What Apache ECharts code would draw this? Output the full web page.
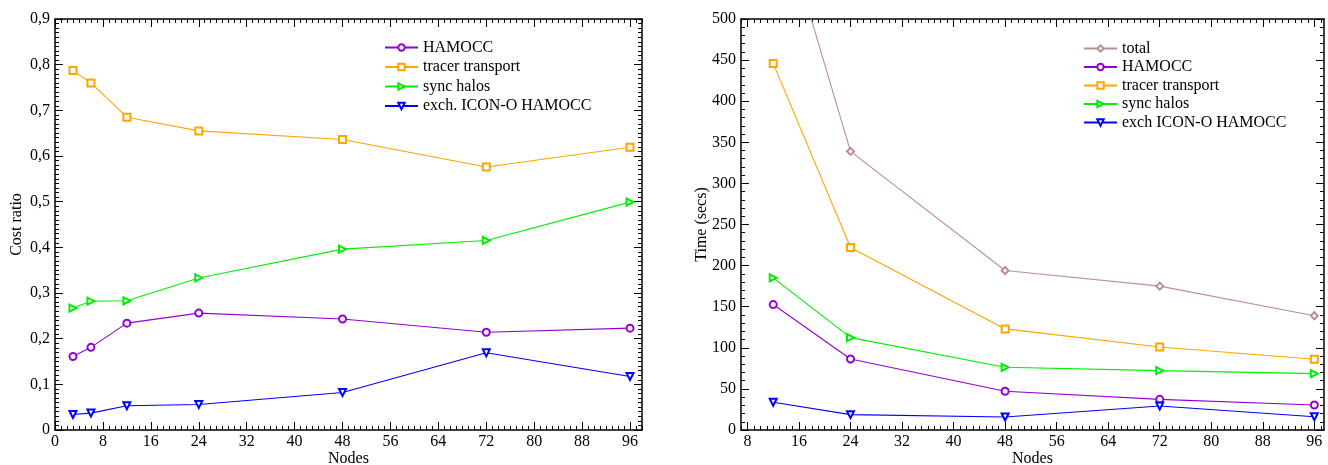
<!DOCTYPE html>
<html><head><meta charset="utf-8">
<script src="https://cdn.jsdelivr.net/npm/echarts@6/dist/echarts.min.js"></script>
<style>html,body{margin:0;padding:0;background:#fff}#c{width:1328px;height:465px}</style>
</head><body><div id="c"></div>
<script>
// ---- Left chart: cost ratio ----
const nodesLeft = [3, 6, 12, 24, 48, 72, 96];
const ratioHamocc = [0.161, 0.181, 0.234, 0.256, 0.243, 0.214, 0.223];
const ratioTracer = [0.787, 0.760, 0.685, 0.655, 0.636, 0.576, 0.619];
const ratioSync   = [0.267, 0.282, 0.283, 0.333, 0.396, 0.415, 0.499];
const ratioExch   = [0.034, 0.037, 0.053, 0.056, 0.082, 0.169, 0.117];

// ---- Right chart: time (secs) ----
const nodesRight = [12, 24, 48, 72, 96];
const timeTotal  = [656, 339, 194, 175, 139];
const timeHamocc = [152.6, 86.4, 47.1, 37.3, 30.4];
const timeTracer = [446, 222, 123, 101, 86];
const timeSync   = [185, 112.4, 76.3, 72.2, 68.6];
const timeExch   = [33.7, 18.7, 15.8, 29.2, 16.2];

// ---- Tick labels ----
const xTicksLeft  = [0, 8, 16, 24, 32, 40, 48, 56, 64, 72, 80, 88, 96];
const yTicksLeft  = [0, 0.1, 0.2, 0.3, 0.4, 0.5, 0.6, 0.7, 0.8, 0.9];
const xTicksRight = [8, 16, 24, 32, 40, 48, 56, 64, 72, 80, 88, 96];
const yTicksRight = [0, 50, 100, 150, 200, 250, 300, 350, 400, 450, 500];

function range(a, b, step) {
  const out = [];
  const n = Math.round((b - a) / step);
  for (let i = 0; i <= n; i++) out.push(+(a + i * step).toFixed(6));
  return out;
}
const xMinorLeft = range(0, 98, 1);
const yMinorLeft = range(0, 0.9, 0.01);
const xMinorRight = range(7, 97, 1);
const yMinorRight = range(0, 500, 10);

const FONT = 'Liberation Serif';
const FS = 16;
const C = {
  hamocc: '#9400d3', tracer: '#ffa500', sync: '#00ee00', exch: '#0000ff', total: '#bc8f8f'
};

function axis(o) {
  return {
    type: 'value', gridIndex: o.grid, position: o.pos, min: o.min, max: o.max,
    splitLine: { show: false },
    axisLine: { show: !!o.line, onZero: false, lineStyle: { color: '#000', width: 1.5 } },
    axisTick: { show: true, inside: true, length: o.len, customValues: o.ticks,
      lineStyle: { color: '#000', width: 1 } },
    axisLabel: { show: !!o.labels, customValues: o.ticks, formatter: o.fmt,
      fontFamily: FONT, fontSize: FS, color: '#000', margin: o.margin || 5 },
    name: o.name || '', nameLocation: 'middle', nameGap: o.nameGap || 0,
    nameMoveOverlap: false,
    nameTextStyle: { fontFamily: FONT, fontSize: FS, color: '#000' }
  };
}
const fmtComma = v => (v === 0 ? '0' : (+v).toFixed(1).replace('.', ','));
const fmtInt = v => String(Math.round(v));

const xAxes = [
  axis({grid:0,pos:'bottom',min:0,max:98,ticks:xTicksLeft,len:8,line:true,labels:true,fmt:fmtInt,margin:4,name:'Nodes',nameGap:21}),
  axis({grid:0,pos:'bottom',min:0,max:98,ticks:xMinorLeft,len:4}),
  axis({grid:0,pos:'top',min:0,max:98,ticks:xTicksLeft,len:8,line:true}),
  axis({grid:0,pos:'top',min:0,max:98,ticks:xMinorLeft,len:4}),
  axis({grid:1,pos:'bottom',min:7,max:97.5,ticks:xTicksRight,len:8,line:true,labels:true,fmt:fmtInt,margin:4,name:'Nodes',nameGap:21}),
  axis({grid:1,pos:'bottom',min:7,max:97.5,ticks:xMinorRight,len:4}),
  axis({grid:1,pos:'top',min:7,max:97.5,ticks:xTicksRight,len:8,line:true}),
  axis({grid:1,pos:'top',min:7,max:97.5,ticks:xMinorRight,len:4})
];
const yAxes = [
  axis({grid:0,pos:'left',min:0,max:0.9,ticks:yTicksLeft,len:8,line:true,labels:true,fmt:fmtComma,name:'Cost ratio',nameGap:30}),
  axis({grid:0,pos:'left',min:0,max:0.9,ticks:yMinorLeft,len:4}),
  axis({grid:0,pos:'right',min:0,max:0.9,ticks:yTicksLeft,len:8,line:true}),
  axis({grid:0,pos:'right',min:0,max:0.9,ticks:yMinorLeft,len:4}),
  axis({grid:1,pos:'left',min:0,max:500,ticks:yTicksRight,len:8,line:true,labels:true,fmt:fmtInt,name:'Time (secs)',nameGap:31}),
  axis({grid:1,pos:'left',min:0,max:500,ticks:yMinorRight,len:4}),
  axis({grid:1,pos:'right',min:0,max:500,ticks:yTicksRight,len:8,line:true}),
  axis({grid:1,pos:'right',min:0,max:500,ticks:yMinorRight,len:4})
];

function zip(xs, ys) { return xs.map((x, i) => [x, ys[i]]); }
function ser(name, xs, ys, color, symbol, rot, xi, yi) {
  return {
    name, type: 'line', xAxisIndex: xi, yAxisIndex: yi, data: zip(xs, ys),
    symbol, symbolSize: 7, symbolRotate: rot, showAllSymbol: true,
    lineStyle: { color, width: 1.1 }, itemStyle: { color, borderWidth: 1 },
    clip: true, animation: false
  };
}

const series = [
  ser('HAMOCC', nodesLeft, ratioHamocc, C.hamocc, 'emptyCircle', 0, 0, 0),
  ser('tracer transport', nodesLeft, ratioTracer, C.tracer, 'emptyRect', 0, 0, 0),
  ser('sync halos', nodesLeft, ratioSync, C.sync, 'emptyTriangle', -90, 0, 0),
  ser('exch. ICON-O HAMOCC', nodesLeft, ratioExch, C.exch, 'emptyTriangle', 180, 0, 0),
  ser('total', nodesRight, timeTotal, C.total, 'emptyDiamond', 0, 4, 4),
  ser('HAMOCC', nodesRight, timeHamocc, C.hamocc, 'emptyCircle', 0, 4, 4),
  ser('tracer transport', nodesRight, timeTracer, C.tracer, 'emptyRect', 0, 4, 4),
  ser('sync halos', nodesRight, timeSync, C.sync, 'emptyTriangle', -90, 4, 4),
  ser('exch ICON-O HAMOCC', nodesRight, timeExch, C.exch, 'emptyTriangle', 180, 4, 4)
];

const legendText = { fontFamily: FONT, fontSize: FS, color: '#000' };
const option = {
  backgroundColor: '#fff',
  animation: false,
  grid: [
    { left: 55, top: 19, width: 587, height: 411, containLabel: false, outerBoundsMode: 'none' },
    { left: 741, top: 19, width: 583, height: 411, containLabel: false, outerBoundsMode: 'none' }
  ],
  xAxis: xAxes,
  yAxis: yAxes,
  legend: [
    { orient: 'vertical', left: 384, top: 39.5, padding: 0, itemWidth: 33, itemHeight: 8, itemGap: 3.5,
      textStyle: legendText, selectedMode: false,
      data: ['HAMOCC', 'tracer transport', 'sync halos', 'exch. ICON-O HAMOCC'] },
    { orient: 'vertical', left: 1083, top: 40.5, padding: 0, itemWidth: 33, itemHeight: 8, itemGap: 2.5,
      textStyle: legendText, selectedMode: false,
      data: ['total', 'HAMOCC', 'tracer transport', 'sync halos', 'exch ICON-O HAMOCC'] }
  ],
  series
};
const chart = echarts.init(document.getElementById('c'), null, { renderer: 'canvas' });
chart.setOption(option);
</script>
</body></html>
